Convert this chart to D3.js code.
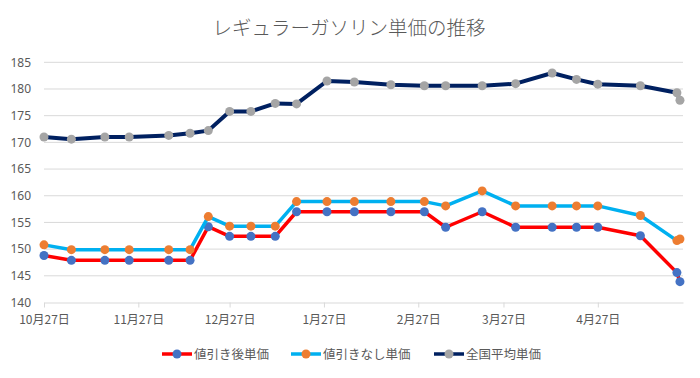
<!DOCTYPE html>
<html>
<head>
<meta charset="utf-8">
<script src="https://d3js.org/d3.v7.min.js"></script>
<style>
  body { margin: 0; background: #fff; }
  text { font-family: "Noto Sans CJK JP", "Noto Sans", sans-serif; fill: #595959; }
</style>
</head>
<body>
<div id="chart"></div>
<script>
// survey dates
var dates = ["2021-10-27","2021-11-05","2021-11-16","2021-11-24","2021-12-07","2021-12-14",
  "2021-12-20","2021-12-27","2022-01-03","2022-01-11","2022-01-18","2022-01-28",
  "2022-02-06","2022-02-18","2022-03-01","2022-03-08","2022-03-20","2022-03-31",
  "2022-04-12","2022-04-20","2022-04-27","2022-05-11","2022-05-23","2022-05-24"];

var afterDiscount = [148.8,147.9,147.9,147.9,147.9,147.9,154.2,152.4,152.4,152.4,157.0,157.0,
  157.0,157.0,157.0,154.1,157.0,154.1,154.1,154.1,154.1,152.5,145.6,143.9];
var noDiscount = [150.8,149.9,149.9,149.9,149.9,149.9,156.1,154.3,154.3,154.3,158.9,158.9,
  158.9,158.9,158.9,158.1,160.9,158.1,158.1,158.1,158.1,156.3,151.6,151.9];
var national = [171.0,170.6,171.0,171.0,171.3,171.7,172.2,175.8,175.8,177.3,177.2,181.5,
  181.3,180.8,180.6,180.6,180.6,181.0,183.0,181.8,180.9,180.6,179.3,177.9];

var seriesNames = ["値引き後単価","値引きなし単価","全国平均単価"];
var lineColors = ["#FF0000","#00B0F0","#002060"];
var markerColors = ["#4472C4","#ED7D31","#A5A5A5"];
var yTicks = [140,145,150,155,160,165,170,175,180,185];
var xTickDates = ["2021-10-27","2021-11-27","2021-12-27","2022-01-27","2022-02-27","2022-03-27","2022-04-27"];

var width = 700, height = 378;
var parse = d3.timeParse("%Y-%m-%d");

var svg = d3.select("#chart").append("svg")
  .attr("width", width).attr("height", height);

var x = d3.scaleTime()
  .domain([parse("2021-10-27"), parse("2022-05-25")])
  .range([44, 683]);
var y = d3.scaleLinear().domain([140, 185]).range([302.5, 62.3]);

// title
svg.append("text")
  .attr("x", 349).attr("y", 28)
  .attr("dy", "0.36em")
  .attr("text-anchor", "middle")
  .style("font-size", "19.5px")
  .style("font-weight", "300")
  .text("レギュラーガソリン単価の推移");

// gridlines
svg.append("g").selectAll("line")
  .data(yTicks.slice(1))
  .enter().append("line")
  .attr("x1", 44).attr("x2", 683)
  .attr("y1", function(d) { return y(d); })
  .attr("y2", function(d) { return y(d); })
  .attr("stroke", "#D9D9D9").attr("stroke-width", 1);

// y axis
var yAxis = svg.append("g")
  .attr("transform", "translate(44,0)")
  .call(d3.axisLeft(y).tickValues(yTicks).tickSize(0).tickPadding(13));
yAxis.select(".domain").remove();
yAxis.selectAll("text").style("font-size", "12px").style("font-family", "\"Noto Sans\", sans-serif").attr("fill", "#595959");

// x axis
var xAxis = svg.append("g")
  .attr("transform", "translate(0,302.5)")
  .call(d3.axisBottom(x)
    .tickValues(xTickDates.map(parse))
    .tickSize(5).tickSizeOuter(0).tickPadding(8)
    .tickFormat(function(d) { return (d.getMonth() + 1) + "月" + d.getDate() + "日"; }));
xAxis.select(".domain").attr("stroke", "#D9D9D9");
xAxis.selectAll(".tick line").attr("stroke", "#D9D9D9");
xAxis.selectAll("text").style("font-size", "12px").attr("fill", "#595959");

// series
var allSeries = [afterDiscount, noDiscount, national];
var line = d3.line()
  .x(function(d) { return x(d.date); })
  .y(function(d) { return y(d.value); });

allSeries.forEach(function(vals, i) {
  var pts = vals.map(function(v, j) { return { date: parse(dates[j]), value: v }; });
  svg.append("path")
    .datum(pts)
    .attr("fill", "none")
    .attr("stroke", lineColors[i])
    .attr("stroke-width", i == 2 ? 4 : 3.5)
    .attr("stroke-linejoin", "round")
    .attr("d", line);
  svg.append("g").selectAll("circle")
    .data(pts)
    .enter().append("circle")
    .attr("cx", function(d) { return x(d.date); })
    .attr("cy", function(d) { return y(d.value); })
    .attr("r", 4.5)
    .attr("fill", markerColors[i]);
});

// legend
var legendX = [162, 291, 434];
var legend = svg.append("g");
seriesNames.forEach(function(name, i) {
  var g = legend.append("g").attr("transform", "translate(" + legendX[i] + ",354)");
  g.append("line").attr("x1", 0).attr("x2", 30).attr("y1", 0).attr("y2", 0)
    .attr("stroke", lineColors[i]).attr("stroke-width", 3.5);
  g.append("circle").attr("cx", 15).attr("cy", 0).attr("r", 4.5).attr("fill", markerColors[i]);
  g.append("text").attr("x", 32).attr("y", 0).attr("dy", "0.36em")
    .style("font-size", "12.5px").text(name);
});
</script>
</body>
</html>
